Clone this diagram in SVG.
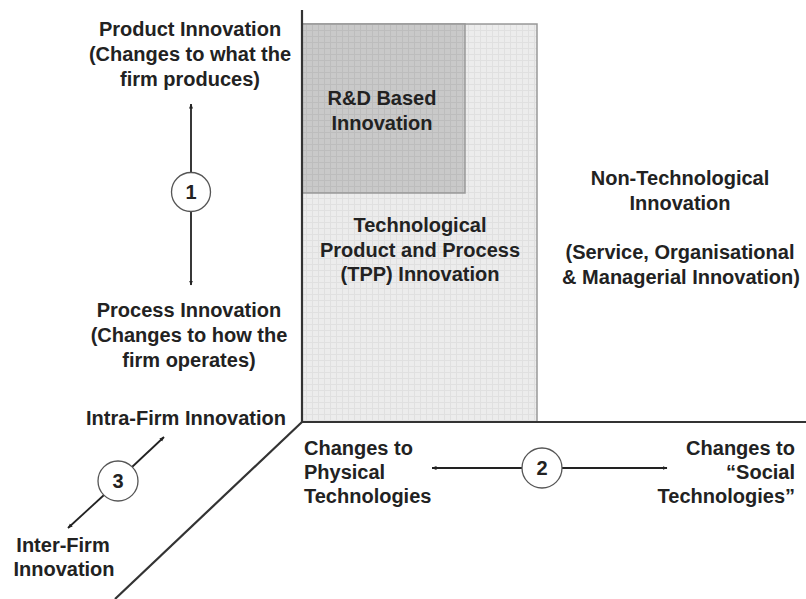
<svg xmlns="http://www.w3.org/2000/svg" width="806" height="599" viewBox="0 0 806 599">
<defs>
<pattern id="gridLight" width="6" height="6" patternUnits="userSpaceOnUse">
<rect width="6" height="6" fill="#ececec"/>
<path d="M0 0.5H6M0.5 0V6" stroke="#e0e0e0" stroke-width="1" fill="none"/>
</pattern>
<pattern id="gridDark" width="6" height="6" patternUnits="userSpaceOnUse">
<rect width="6" height="6" fill="#c9c9c9"/>
<path d="M0 0.5H6M0.5 0V6" stroke="#bdbdbd" stroke-width="1" fill="none"/>
</pattern>
<marker id="arr" viewBox="0 0 10 10" refX="9" refY="5" markerWidth="5" markerHeight="5" orient="auto-start-reverse" markerUnits="userSpaceOnUse">
<path d="M0 1L10 5L0 9Z" fill="#222"/>
</marker>
<style>
text{font-family:"Liberation Sans",Arial,sans-serif;font-weight:bold;font-size:20px;fill:#222;}
.c{text-anchor:middle;}
.r{text-anchor:end;}
.axis{stroke:#333;stroke-width:2.2;fill:none;}
.conn{stroke:#222;stroke-width:1.8;fill:none;}
.circ{fill:#fff;stroke:#555;stroke-width:1.3;}
.box{stroke:#999;stroke-width:1.5;}
</style>
</defs>
<rect width="806" height="599" fill="#fff"/>

<g id="tpp">
<rect class="box" x="302" y="24" width="235" height="398" fill="url(#gridLight)"/>
<text class="c" x="420" y="232">Technological</text>
<text class="c" x="420" y="257">Product and Process</text>
<text class="c" x="420" y="281">(TPP) Innovation</text>
</g>
<g id="rd">
<rect class="box" x="302" y="24" width="163" height="169" fill="url(#gridDark)"/>
<text class="c" x="382" y="105">R&amp;D Based</text>
<text class="c" x="382" y="130">Innovation</text>
</g>
<g id="nontech">
<text class="c" x="680" y="185">Non-Technological</text>
<text class="c" x="680" y="210">Innovation</text>
<text class="c" x="680" y="259">(Service, Organisational</text>
<text class="c" x="681" y="284">&amp; Managerial Innovation)</text>
</g>

<g id="axes">
<path class="axis" d="M302 10V422H806"/>
<path class="axis" d="M302 422L115 599"/>
</g>

<g id="connectors">
<line class="conn" x1="191" y1="172" x2="191" y2="104" marker-end="url(#arr)"/>
<line class="conn" x1="191" y1="212" x2="191" y2="285" marker-end="url(#arr)"/>
<line class="conn" x1="522" y1="468" x2="432" y2="468" marker-end="url(#arr)"/>
<line class="conn" x1="562" y1="468" x2="667" y2="468" marker-end="url(#arr)"/>
<line class="conn" x1="132" y1="467" x2="164" y2="437" marker-end="url(#arr)"/>
<line class="conn" x1="104" y1="495" x2="68" y2="528" marker-end="url(#arr)"/>
</g>

<g id="circle1">
<circle class="circ" cx="191" cy="192" r="19.5"/>
<text class="c" x="191" y="199">1</text>
</g>
<g id="circle2">
<circle class="circ" cx="542" cy="468" r="20"/>
<text class="c" x="542" y="475">2</text>
</g>
<g id="circle3">
<circle class="circ" cx="118" cy="481" r="20"/>
<text class="c" x="118" y="488">3</text>
</g>

<g id="product">
<text class="c" x="190" y="36">Product Innovation</text>
<text class="c" x="190" y="61">(Changes to what the</text>
<text class="c" x="190" y="86">firm produces)</text>
</g>
<g id="process">
<text class="c" x="189" y="317">Process Innovation</text>
<text class="c" x="189" y="342">(Changes to how the</text>
<text class="c" x="189" y="367">firm operates)</text>
</g>
<g id="intra">
<text class="c" x="186" y="425">Intra-Firm Innovation</text>
</g>
<g id="inter">
<text class="c" x="63" y="552">Inter-Firm</text>
<text class="c" x="64" y="576">Innovation</text>
</g>
<g id="physical">
<text x="304" y="455">Changes to</text>
<text x="304" y="479">Physical</text>
<text x="304" y="503">Technologies</text>
</g>
<g id="social">
<text class="r" x="795" y="455">Changes to</text>
<text class="r" x="795" y="479">“Social</text>
<text class="r" x="795" y="503">Technologies”</text>
</g>
</svg>
